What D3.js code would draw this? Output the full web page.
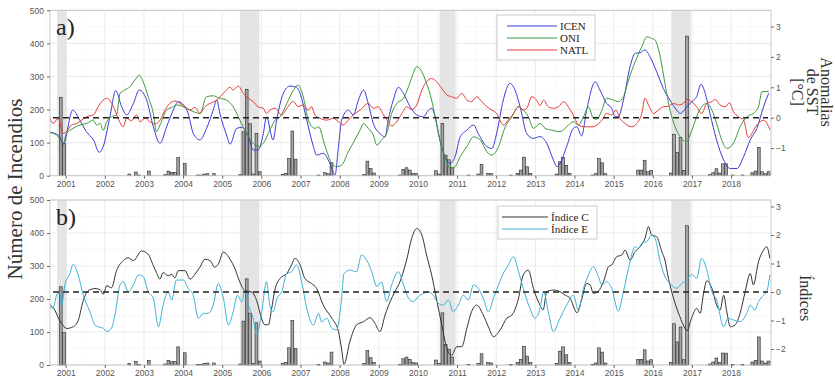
<!DOCTYPE html>
<html>
<head>
<meta charset="utf-8">
<script src="https://cdn.jsdelivr.net/npm/d3@7"></script>
<style>
  body { margin: 0; background: #fff; }
  svg { display: block; }
</style>
</head>
<body>
<div id="chart"></div>
<script>
// monthly number of fires (only months with fires)
const fireMonths = ["2000-11","2000-12","2002-08","2002-10","2002-11","2003-02","2003-07","2003-08","2003-09","2003-10","2003-11",
  "2004-01","2004-05","2004-06","2004-07","2004-08","2004-10","2005-06","2005-07","2005-08","2005-09","2005-10","2005-11","2005-12",
  "2006-07","2006-08","2006-09","2006-10","2006-11","2007-06","2007-08","2007-09","2007-10","2008-08","2008-09","2008-10","2008-11",
  "2009-07","2009-08","2009-09","2009-10","2009-11","2009-12","2010-06","2010-07","2010-08","2010-09","2010-10","2010-11",
  "2011-04","2011-07","2011-08","2011-10","2011-11","2012-05","2012-07","2012-08","2012-09","2012-10","2012-11",
  "2013-07","2013-08","2013-09","2013-10","2013-11","2014-06","2014-07","2014-08","2014-09","2014-10",
  "2015-08","2015-09","2015-10","2015-11","2015-12","2016-06","2016-07","2016-08","2016-09","2016-10","2016-11",
  "2017-06","2017-07","2017-08","2017-09","2017-10","2017-11","2018-01","2018-04","2018-07","2018-08","2018-09","2018-10","2018-11","2018-12"];
const fireCounts = [237,98,5,11,2,14,3,14,10,10,55,
  37,2,2,5,6,6,3,133,261,157,5,128,12,
  4,7,52,135,50,2,9,6,39,4,44,22,8,
  2,19,24,17,7,6,15,5,158,62,48,24,
  2,5,34,7,6,2,7,17,56,27,7,
  5,42,55,31,7,2,6,52,39,6,
  17,17,46,12,16,8,125,70,115,16,422,
  3,9,21,8,36,36,2,2,9,14,85,12,6,12];

// shaded fire seasons (decimal years)
const seasons = [[2000.78, 2001.03], [2005.45, 2005.95], [2010.55, 2010.96], [2016.47, 2016.97]];

// panel a: SST anomalies [decimal year, °C]
const icen = [[2000.60,-0.48],[2000.73,-0.52],[2000.85,-0.63],[2000.94,-0.87],[2001.18,0.25],[2001.36,-0.08],[2001.53,-0.46],[2001.71,-0.73],[2001.86,-1.14],[2001.96,-0.95],[2002.13,0.03],[2002.28,0.89],[2002.43,0.36],[2002.56,0.09],[2002.73,0.47],[2002.88,0.91],[2003.07,0.58],[2003.24,-0.30],[2003.41,-0.84],[2003.58,-0.30],[2003.75,0.25],[2003.88,0.53],[2004.01,0.42],[2004.13,0.14],[2004.26,-0.52],[2004.43,-0.73],[2004.60,-0.35],[2004.77,0.25],[2004.86,0.58],[2004.94,0.14],[2005.11,-0.57],[2005.20,-0.87],[2005.37,-0.35],[2005.50,-0.32],[2005.67,-0.63],[2005.79,-1.06],[2005.92,-1.06],[2006.05,-0.52],[2006.13,0.03],[2006.30,-0.73],[2006.39,-0.08],[2006.56,0.80],[2006.73,1.04],[2006.90,1.00],[2006.99,0.80],[2007.16,-0.08],[2007.33,-0.95],[2007.41,-1.23],[2007.58,-1.17],[2007.75,-1.50],[2007.88,-1.89],[2007.97,-0.95],[2008.05,-0.08],[2008.22,0.25],[2008.35,0.09],[2008.48,0.58],[2008.61,0.91],[2008.73,0.47],[2008.86,-0.19],[2009.03,-0.52],[2009.16,-0.63],[2009.24,-0.08],[2009.37,0.58],[2009.50,1.00],[2009.63,0.80],[2009.80,0.36],[2009.97,0.09],[2010.14,0.03],[2010.27,0.25],[2010.35,0.31],[2010.44,0.03],[2010.56,-0.73],[2010.69,-1.28],[2010.82,-1.50],[2010.95,-1.28],[2011.08,-0.63],[2011.25,-0.41],[2011.42,-0.24],[2011.54,-0.52],[2011.76,-0.95],[2011.89,-1.01],[2012.01,-0.52],[2012.18,0.58],[2012.35,1.13],[2012.48,0.91],[2012.61,0.36],[2012.78,-0.52],[2012.95,-0.68],[2013.12,-0.62],[2013.29,-0.84],[2013.46,-1.39],[2013.55,-1.61],[2013.63,-1.50],[2013.80,-0.95],[2013.97,-0.35],[2014.06,-0.30],[2014.18,-0.60],[2014.31,0.25],[2014.53,1.18],[2014.65,0.91],[2014.82,0.47],[2014.95,0.31],[2015.04,0.03],[2015.12,0.03],[2015.25,0.58],[2015.42,1.68],[2015.55,2.12],[2015.68,2.14],[2015.80,2.23],[2015.93,2.00],[2016.10,1.51],[2016.27,0.96],[2016.44,0.58],[2016.61,0.25],[2016.70,0.14],[2016.87,0.36],[2017.04,0.58],[2017.12,0.69],[2017.23,1.10],[2017.34,0.80],[2017.46,0.14],[2017.63,-0.73],[2017.81,-1.39],[2017.98,-1.67],[2018.15,-1.67],[2018.32,-1.28],[2018.49,-0.73],[2018.66,-0.35],[2018.83,0.36],[2018.96,0.80]];
const oni = [[2000.60,-0.49],[2000.77,-0.57],[2000.94,-0.84],[2001.02,-0.52],[2001.19,-0.35],[2001.36,-0.24],[2001.53,-0.19],[2001.71,-0.08],[2001.79,-0.24],[2001.88,-0.19],[2001.96,-0.41],[2002.05,-0.13],[2002.17,0.03],[2002.30,0.09],[2002.39,0.80],[2002.51,0.91],[2002.64,1.02],[2002.77,1.24],[2002.88,1.40],[2002.98,1.18],[2003.11,0.69],[2003.24,0.14],[2003.32,-0.46],[2003.41,-0.24],[2003.58,0.25],[2003.75,0.36],[2003.83,0.42],[2004.09,0.31],[2004.26,0.20],[2004.43,0.14],[2004.60,0.69],[2004.77,0.72],[2004.94,0.64],[2005.11,0.58],[2005.28,0.36],[2005.45,-0.08],[2005.62,-0.52],[2005.79,-0.84],[2005.92,-0.95],[2006.05,-0.84],[2006.22,-0.40],[2006.35,-0.08],[2006.48,0.03],[2006.65,0.47],[2006.82,0.91],[2006.94,1.07],[2007.07,0.69],[2007.20,-0.08],[2007.37,-0.35],[2007.46,-0.30],[2007.63,-0.95],[2007.80,-1.50],[2007.92,-1.61],[2008.05,-1.56],[2008.22,-1.12],[2008.39,-0.73],[2008.52,-0.41],[2008.61,-0.19],[2008.73,-0.35],[2008.86,-0.57],[2008.95,-0.90],[2009.07,-0.73],[2009.20,-0.52],[2009.33,0.14],[2009.46,0.47],[2009.63,0.64],[2009.76,1.02],[2009.88,1.46],[2009.97,1.68],[2010.10,1.51],[2010.22,1.13],[2010.35,0.58],[2010.44,0.03],[2010.56,-0.73],[2010.69,-1.28],[2010.82,-1.67],[2010.95,-1.61],[2011.08,-1.28],[2011.25,-0.95],[2011.42,-0.63],[2011.59,-0.73],[2011.76,-1.12],[2011.89,-1.23],[2012.06,-0.95],[2012.23,-0.30],[2012.40,0.03],[2012.57,0.36],[2012.69,0.25],[2012.82,0.03],[2012.95,-0.35],[2013.12,-0.19],[2013.25,-0.35],[2013.42,-0.41],[2013.63,-0.46],[2013.80,-0.30],[2013.97,-0.13],[2014.10,-0.24],[2014.23,0.03],[2014.36,0.36],[2014.48,-0.02],[2014.57,-0.05],[2014.70,0.25],[2014.82,0.64],[2014.99,0.58],[2015.12,0.53],[2015.25,0.69],[2015.38,1.24],[2015.55,1.84],[2015.72,2.34],[2015.85,2.66],[2015.97,2.61],[2016.06,2.55],[2016.19,2.00],[2016.31,1.13],[2016.44,0.25],[2016.57,-0.30],[2016.70,-0.63],[2016.85,-0.79],[2017.00,-0.41],[2017.12,0.03],[2017.25,0.36],[2017.38,0.47],[2017.51,0.25],[2017.63,-0.19],[2017.76,-0.73],[2017.89,-1.01],[2018.06,-0.84],[2018.23,-0.30],[2018.40,0.03],[2018.57,0.14],[2018.70,0.36],[2018.79,0.86],[2018.96,0.86]];
const natl = [[2000.60,-0.02],[2000.68,-0.19],[2000.81,-0.02],[2000.94,-0.52],[2001.02,-0.46],[2001.15,-0.24],[2001.28,-0.19],[2001.41,-0.08],[2001.53,0.03],[2001.71,0.09],[2001.83,0.36],[2001.92,0.53],[2002.05,0.64],[2002.22,0.36],[2002.34,-0.02],[2002.47,-0.30],[2002.56,-0.02],[2002.68,-0.10],[2002.81,0.09],[2002.90,-0.13],[2003.03,-0.02],[2003.15,-0.13],[2003.28,-0.21],[2003.41,-0.08],[2003.54,0.25],[2003.66,0.47],[2003.79,0.55],[2003.92,0.47],[2004.05,0.36],[2004.18,0.25],[2004.30,0.34],[2004.43,0.14],[2004.56,0.36],[2004.69,0.47],[2004.86,0.58],[2005.03,0.80],[2005.20,1.00],[2005.28,0.91],[2005.41,1.04],[2005.54,0.80],[2005.67,0.64],[2005.79,0.53],[2005.92,0.36],[2006.05,0.31],[2006.13,0.14],[2006.22,0.25],[2006.35,0.31],[2006.52,0.09],[2006.65,0.31],[2006.82,0.53],[2006.94,0.36],[2007.07,0.42],[2007.20,0.25],[2007.28,0.36],[2007.37,0.09],[2007.50,-0.02],[2007.67,-0.08],[2007.84,-0.02],[2007.97,-0.13],[2008.09,-0.24],[2008.22,-0.08],[2008.35,0.09],[2008.52,0.25],[2008.73,0.47],[2008.86,0.31],[2008.99,0.36],[2009.12,0.09],[2009.24,-0.13],[2009.33,-0.27],[2009.46,-0.13],[2009.59,0.14],[2009.71,0.36],[2009.84,0.27],[2009.97,0.42],[2010.10,0.91],[2010.22,1.18],[2010.35,1.29],[2010.48,1.18],[2010.61,0.96],[2010.74,0.75],[2010.86,0.69],[2010.99,0.64],[2011.12,0.80],[2011.25,0.58],[2011.37,0.53],[2011.50,0.69],[2011.63,0.53],[2011.76,0.36],[2011.89,0.25],[2012.01,0.14],[2012.18,-0.24],[2012.31,-0.08],[2012.44,0.14],[2012.57,0.36],[2012.69,0.25],[2012.78,0.31],[2012.91,0.69],[2013.03,0.58],[2013.12,0.40],[2013.21,0.58],[2013.33,0.36],[2013.46,0.31],[2013.59,0.36],[2013.72,0.53],[2013.84,0.36],[2013.97,0.09],[2014.10,-0.24],[2014.27,-0.30],[2014.44,-0.30],[2014.57,-0.24],[2014.70,-0.08],[2014.82,0.14],[2014.95,0.09],[2015.06,0.25],[2015.16,-0.02],[2015.29,-0.19],[2015.46,-0.30],[2015.59,-0.19],[2015.72,0.14],[2015.80,0.64],[2015.89,0.42],[2016.02,0.14],[2016.14,0.25],[2016.27,0.36],[2016.40,0.38],[2016.53,0.47],[2016.66,0.42],[2016.78,0.47],[2016.87,0.60],[2016.99,0.53],[2017.12,0.36],[2017.25,0.14],[2017.38,0.47],[2017.51,0.53],[2017.59,0.60],[2017.72,0.42],[2017.85,0.36],[2017.96,0.49],[2018.06,0.20],[2018.19,0.03],[2018.32,-0.08],[2018.44,-0.65],[2018.66,-0.24],[2018.83,-0.08],[2019.00,-0.41]];

// panel b: indices C and E
const indiceC = [[2000.60,-0.45],[2000.73,-0.65],[2000.81,-0.90],[2000.90,-1.10],[2001.02,-1.28],[2001.19,-1.22],[2001.32,-1.00],[2001.45,-0.30],[2001.58,0.05],[2001.75,0.12],[2001.88,0.08],[2001.96,-0.08],[2002.05,0.22],[2002.17,0.15],[2002.30,0.75],[2002.47,1.10],[2002.60,1.20],[2002.73,1.10],[2002.94,1.44],[2003.11,1.32],[2003.24,0.92],[2003.32,0.68],[2003.41,0.45],[2003.49,0.68],[2003.62,0.57],[2003.71,0.62],[2003.79,0.50],[2003.88,0.75],[2004.05,0.75],[2004.18,0.45],[2004.30,0.62],[2004.43,0.87],[2004.56,1.15],[2004.69,1.10],[2004.81,0.87],[2004.90,0.98],[2005.03,1.40],[2005.20,1.15],[2005.33,0.80],[2005.45,0.35],[2005.58,0.05],[2005.75,0.00],[2005.88,-0.30],[2006.01,-0.95],[2006.09,-1.15],[2006.18,-1.15],[2006.26,-0.60],[2006.35,0.10],[2006.48,0.48],[2006.65,0.65],[2006.77,0.95],[2006.86,1.18],[2006.99,0.95],[2007.11,0.48],[2007.28,0.30],[2007.41,0.13],[2007.58,-0.46],[2007.80,-0.92],[2007.97,-1.39],[2008.05,-2.00],[2008.11,-2.54],[2008.26,-1.74],[2008.43,-1.16],[2008.61,-1.04],[2008.78,-0.90],[2008.90,-1.10],[2009.03,-1.39],[2009.16,-0.81],[2009.29,-0.34],[2009.41,0.01],[2009.54,0.36],[2009.71,1.12],[2009.84,1.88],[2009.97,2.23],[2010.10,2.00],[2010.22,1.30],[2010.35,0.60],[2010.48,-0.28],[2010.61,-1.16],[2010.74,-1.98],[2010.86,-2.22],[2010.99,-1.92],[2011.12,-1.92],[2011.25,-1.27],[2011.37,-0.69],[2011.50,-0.46],[2011.67,-0.81],[2011.80,-1.22],[2011.93,-1.57],[2012.10,-1.33],[2012.27,-0.92],[2012.40,-0.81],[2012.57,-0.22],[2012.69,0.60],[2012.82,0.77],[2012.95,0.13],[2013.08,-0.35],[2013.20,-0.62],[2013.29,0.01],[2013.46,0.07],[2013.63,0.01],[2013.76,-0.11],[2013.89,-0.22],[2014.01,-0.63],[2014.06,-0.73],[2014.18,-0.28],[2014.31,0.30],[2014.40,0.25],[2014.48,-0.05],[2014.61,0.03],[2014.74,0.36],[2014.87,0.89],[2014.95,0.95],[2015.08,1.24],[2015.21,1.30],[2015.29,1.47],[2015.42,1.12],[2015.55,1.42],[2015.68,1.59],[2015.80,1.88],[2015.89,2.29],[2015.97,2.00],[2016.10,1.94],[2016.23,1.42],[2016.31,1.12],[2016.40,0.48],[2016.53,-0.22],[2016.66,-0.75],[2016.78,-1.16],[2016.87,-1.36],[2016.99,-0.92],[2017.12,-0.57],[2017.21,-0.75],[2017.29,-0.11],[2017.38,0.39],[2017.51,0.13],[2017.63,-0.46],[2017.72,-0.63],[2017.81,-0.11],[2017.89,-0.69],[2017.98,-1.22],[2018.10,-1.16],[2018.23,-0.75],[2018.36,0.01],[2018.49,0.65],[2018.57,0.25],[2018.70,1.06],[2018.83,1.47],[2018.91,1.59],[2018.99,1.18]];
const indiceE = [[2000.60,-0.51],[2000.68,-0.57],[2000.77,-0.11],[2000.85,-0.01],[2000.90,-0.46],[2000.98,0.25],[2001.11,0.65],[2001.19,0.97],[2001.32,0.60],[2001.45,-0.11],[2001.62,-0.69],[2001.75,-1.16],[2001.83,-1.22],[2001.96,-1.27],[2002.05,-1.39],[2002.17,-1.27],[2002.26,-0.81],[2002.39,0.25],[2002.47,0.36],[2002.60,0.01],[2002.73,0.25],[2002.86,0.60],[2002.98,0.54],[2003.11,0.01],[2003.24,-0.22],[2003.37,-1.22],[2003.49,-0.46],[2003.62,0.01],[2003.71,-0.28],[2003.83,0.42],[2004.01,0.42],[2004.13,0.13],[2004.26,-0.11],[2004.39,-0.92],[2004.52,-0.75],[2004.64,-0.75],[2004.77,-0.46],[2004.90,0.30],[2005.03,-0.22],[2005.16,-1.16],[2005.28,-0.69],[2005.39,-0.11],[2005.50,-0.34],[2005.58,0.01],[2005.67,-0.46],[2005.79,-0.92],[2005.88,-1.51],[2006.01,-0.69],[2006.13,0.36],[2006.22,-0.50],[2006.30,-0.69],[2006.40,-0.22],[2006.52,0.01],[2006.65,0.65],[2006.77,0.71],[2006.90,0.95],[2007.03,0.36],[2007.16,-0.57],[2007.33,-1.16],[2007.46,-0.75],[2007.54,-1.05],[2007.67,-0.92],[2007.80,-1.27],[2007.92,-1.33],[2008.05,-0.22],[2008.11,0.65],[2008.26,0.77],[2008.43,0.71],[2008.56,1.30],[2008.69,1.12],[2008.82,0.71],[2008.95,0.19],[2009.07,0.36],[2009.20,-0.34],[2009.33,0.25],[2009.50,0.71],[2009.63,0.25],[2009.76,-0.22],[2009.88,-0.34],[2010.01,-0.16],[2010.14,-0.05],[2010.27,0.00],[2010.39,-0.11],[2010.52,-0.40],[2010.65,-0.46],[2010.78,-0.28],[2010.90,-0.69],[2011.03,-0.46],[2011.16,-0.11],[2011.29,-0.28],[2011.42,0.25],[2011.54,0.13],[2011.67,-0.22],[2011.80,-0.69],[2011.93,-0.22],[2012.06,0.25],[2012.18,0.65],[2012.31,0.95],[2012.44,1.24],[2012.57,0.71],[2012.69,0.13],[2012.86,-0.57],[2012.99,-0.92],[2013.12,-0.57],[2013.21,0.01],[2013.33,-0.69],[2013.46,-1.39],[2013.63,-0.92],[2013.80,-0.46],[2013.97,-0.11],[2014.10,-0.63],[2014.23,0.13],[2014.36,0.60],[2014.48,0.89],[2014.61,0.54],[2014.70,0.25],[2014.82,0.36],[2014.95,0.13],[2015.12,-0.67],[2015.25,0.01],[2015.38,0.83],[2015.55,1.59],[2015.63,1.53],[2015.72,1.71],[2015.85,1.77],[2015.97,2.00],[2016.06,1.88],[2016.19,1.06],[2016.31,0.54],[2016.44,0.30],[2016.61,0.13],[2016.74,0.30],[2016.87,0.42],[2016.99,0.62],[2017.12,0.48],[2017.25,1.18],[2017.38,0.77],[2017.51,0.01],[2017.63,-0.28],[2017.81,-1.22],[2017.93,-0.92],[2018.06,-0.98],[2018.23,-1.04],[2018.40,-0.75],[2018.49,-0.46],[2018.61,-0.63],[2018.70,-0.34],[2018.83,-0.11],[2018.91,0.01],[2018.99,0.60]];

const yearTicks = d3.range(2001, 2019);
const countTicks = [0, 100, 200, 300, 400, 500];
const rightTicksA = [-1, 0, 1, 2, 3];
const rightTicksB = [-2, -1, 0, 1, 2, 3];

const W = 835, H = 378;
const serif = "'Liberation Serif','Times New Roman',serif";
const sans = "'Liberation Sans',Arial,sans-serif";

const svg = d3.select("#chart").append("svg")
  .attr("width", W).attr("height", H)
  .style("background", "#fff");

// shared time axis (decimal years)
const x = d3.scaleLinear().domain([2000.6, 2019.02]).range([50, 771]);

const monthT = s => { const p = s.split("-"); return +p[0] + (+p[1] - 0.5) / 12; };
const bars = fireMonths.map((m, i) => ({t: monthT(m), n: fireCounts[i]}));
const barW = (x(2001) - x(2000)) / 12 * 0.86;

function drawPanel(o) {
  const g = svg.append("g");
  const yL = d3.scaleLinear().domain([0, 500]).range([o.bottom, o.top]);
  const yR = d3.scaleLinear().domain(o.rDomain).range([o.bottom, o.top]);

  const clipId = "clip" + o.id;
  svg.append("clipPath").attr("id", clipId)
    .append("rect").attr("x", x.range()[0]).attr("y", o.top)
    .attr("width", x.range()[1] - x.range()[0]).attr("height", o.bottom - o.top);

  // grid
  const grid = g.append("g");
  grid.selectAll(".vmin").data(yearTicks.map(d => d - 0.5).concat([2018.5]))
    .join("line")
    .attr("x1", d => x(d)).attr("x2", d => x(d))
    .attr("y1", o.top).attr("y2", o.bottom)
    .attr("stroke", "#f3f3f3").attr("stroke-width", 0.6);
  grid.selectAll(".hmin").data([50, 150, 250, 350, 450])
    .join("line")
    .attr("x1", x.range()[0]).attr("x2", x.range()[1])
    .attr("y1", d => yL(d)).attr("y2", d => yL(d))
    .attr("stroke", "#f3f3f3").attr("stroke-width", 0.6);
  grid.selectAll(".vmaj").data(yearTicks)
    .join("line")
    .attr("x1", d => x(d)).attr("x2", d => x(d))
    .attr("y1", o.top).attr("y2", o.bottom)
    .attr("stroke", "#e6e6e6").attr("stroke-width", 0.8);
  grid.selectAll(".hmaj").data(countTicks)
    .join("line")
    .attr("x1", x.range()[0]).attr("x2", x.range()[1])
    .attr("y1", d => yL(d)).attr("y2", d => yL(d))
    .attr("stroke", "#e6e6e6").attr("stroke-width", 0.8);

  // shaded seasons
  g.selectAll(".season").data(seasons)
    .join("rect")
    .attr("x", d => x(d[0])).attr("width", d => x(d[1]) - x(d[0]))
    .attr("y", o.top).attr("height", o.bottom - o.top)
    .attr("fill", "#e4e4e4");

  // fire bars
  g.selectAll(".bar").data(bars)
    .join("rect")
    .attr("x", d => x(d.t) - barW / 2).attr("width", barW)
    .attr("y", d => yL(d.n)).attr("height", d => yL(0) - yL(d.n))
    .attr("fill", "#a3a3a3").attr("stroke", "#262626").attr("stroke-width", 0.6);

  // series lines
  const line = d3.line().x(d => x(d[0])).y(d => yR(d[1])).curve(d3.curveMonotoneX);
  const lines = g.append("g").attr("clip-path", `url(#${clipId})`);
  o.series.forEach(s => {
    lines.append("path").datum(s.data)
      .attr("fill", "none").attr("stroke", s.color).attr("stroke-width", 1);
  });
  lines.selectAll("path").attr("d", line);

  // zero reference
  g.append("line")
    .attr("x1", x.range()[0] + 3).attr("x2", x.range()[1] - 3)
    .attr("y1", yR(0)).attr("y2", yR(0))
    .attr("stroke", "#222").attr("stroke-width", 1.6).attr("stroke-dasharray", "6,4");

  // border
  g.append("rect")
    .attr("x", x.range()[0]).attr("y", o.top)
    .attr("width", x.range()[1] - x.range()[0]).attr("height", o.bottom - o.top)
    .attr("fill", "none").attr("stroke", "#c4c4c4").attr("stroke-width", 0.9);

  // axes
  const styleAxis = a => {
    a.select(".domain").remove();
    a.selectAll("line").attr("stroke", "#666");
    a.selectAll("text").attr("fill", "#555").style("font-family", sans).style("font-size", "8.5px");
  };
  g.append("g").attr("transform", `translate(${x.range()[0]},0)`)
    .call(d3.axisLeft(yL).tickValues(countTicks).tickSize(3).tickPadding(3))
    .call(styleAxis);
  g.append("g").attr("transform", `translate(${x.range()[1]},0)`)
    .call(d3.axisRight(yR).tickValues(o.rTicks).tickSize(3).tickPadding(2).tickFormat(d3.format("d")))
    .call(styleAxis);
  g.append("g").attr("transform", `translate(0,${o.bottom})`)
    .call(d3.axisBottom(x).tickValues(yearTicks).tickSize(3).tickPadding(2).tickFormat(d3.format("d")))
    .call(styleAxis);

  // panel tag
  g.append("text").attr("x", 56).attr("y", o.top + 25)
    .style("font-family", serif).style("font-size", "24px").attr("fill", "#222")
    .text(o.tag);

  // legend
  const lg = g.append("g");
  lg.append("rect").attr("x", o.legend.x).attr("y", o.legend.y)
    .attr("width", o.legend.w).attr("height", o.legend.h)
    .attr("fill", "#fff").attr("stroke", "#c8c8c8").attr("stroke-width", 0.9);
  o.series.forEach((s, i) => {
    const yy = o.legend.y + o.legend.first + i * o.legend.step;
    lg.append("path")
      .attr("d", `M${o.legend.l1},${yy}H${o.legend.l2}`)
      .attr("fill", "none").attr("stroke", s.color).attr("stroke-width", 1.2);
    lg.append("text").attr("x", o.legend.l2 + 3).attr("y", yy).attr("dy", "0.35em")
      .style("font-family", serif).style("font-size", "11px").attr("fill", "#222")
      .text(s.name);
  });
}

drawPanel({
  id: "a", tag: "a)", top: 10.3, bottom: 175.7, rDomain: [-1.908, 3.533], rTicks: rightTicksA,
  series: [
    {name: "ICEN", data: icen, color: "#3b3bd8"},
    {name: "ONI", data: oni, color: "#3c9a3c"},
    {name: "NATL", data: natl, color: "#e63a3a"}
  ],
  legend: {x: 497, y: 15, w: 98, h: 45, first: 11, step: 12, l1: 507, l2: 557}
});

drawPanel({
  id: "b", tag: "b)", top: 200, bottom: 365, rDomain: [-2.561, 3.228], rTicks: rightTicksB,
  series: [
    {name: "Índice C", data: indiceC, color: "#333333"},
    {name: "Índice E", data: indiceE, color: "#3fb1d6"}
  ],
  legend: {x: 498, y: 206, w: 99, h: 33, first: 11, step: 12, l1: 502, l2: 548}
});

// axis titles
svg.append("text")
  .attr("transform", "translate(22,189) rotate(-90)")
  .attr("text-anchor", "middle")
  .style("font-family", serif).style("font-size", "21px").attr("fill", "#333")
  .text("Número de Incendios");

["Anomalias", "de SST", "[°C]"].forEach((t, i) => {
  svg.append("text")
    .attr("transform", `translate(${821 - i * 14.5},92) rotate(90)`)
    .attr("text-anchor", "middle")
    .style("font-family", serif).style("font-size", "16px").attr("fill", "#333")
    .text(t);
});

svg.append("text")
  .attr("transform", "translate(800,298) rotate(90)")
  .attr("text-anchor", "middle")
  .style("font-family", serif).style("font-size", "16px").attr("fill", "#333")
  .text("Índices");
</script>
</body>
</html>
